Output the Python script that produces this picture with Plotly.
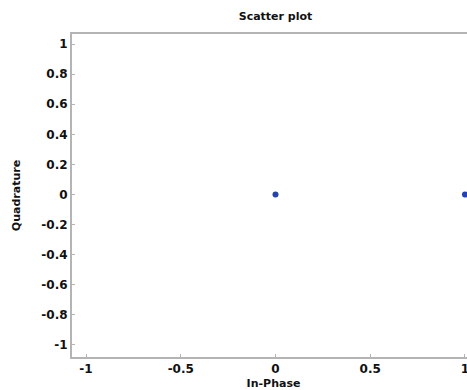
import plotly.graph_objects as go

in_phase = [0, 1]
quadrature = [0, 0]

x_tick_vals = [-1, -0.5, 0, 0.5, 1]
x_tick_text = ["-1", "-0.5", "0", "0.5", "1"]
y_tick_vals = [1, 0.8, 0.6, 0.4, 0.2, 0, -0.2, -0.4, -0.6, -0.8, -1]
y_tick_text = ["1", "0.8", "0.6", "0.4", "0.2", "0", "-0.2", "-0.4", "-0.6", "-0.8", "-1"]

fig = go.Figure()
fig.add_trace(go.Scatter(
    x=in_phase, y=quadrature, mode="markers",
    marker=dict(color="#2443b0", size=6),
    cliponaxis=False, showlegend=False,
))

tick_font = dict(family="DejaVu Sans, sans-serif", size=12, color="#111111")
title_font = dict(family="DejaVu Sans, sans-serif", size=11, color="#111111")

# the original axes box continues past the right edge of the picture; the page
# window (467 px) crops the last few pixels of this 475 px figure
fig.update_layout(
    width=475, height=390,
    margin=dict(l=72, r=0, t=34, b=33, autoexpand=False),
    paper_bgcolor="white", plot_bgcolor="white",
    title=dict(text="<b>Scatter plot</b>", x=0.58, xanchor="center", y=0.959, yanchor="middle",
               font=title_font),
    xaxis=dict(
        range=[-1.074, 1.053], tickvals=x_tick_vals, ticktext=[f"<b>{t}</b>" for t in x_tick_text],
        tickfont=tick_font,
        showgrid=False, zeroline=False, showline=True, linecolor="#b4b4b4", linewidth=2,
        mirror=True, ticks="inside", ticklen=3, tickcolor="#b4b4b4", automargin=False,
        title=dict(text="<b>In-Phase</b>", standoff=4, font=title_font),
    ),
    yaxis=dict(
        range=[-1.08, 1.067], tickvals=y_tick_vals, ticktext=[f"<b>{t}</b>" for t in y_tick_text],
        tickfont=tick_font,
        showgrid=False, zeroline=False, showline=True, linecolor="#b4b4b4", linewidth=2,
        mirror=False, ticks="inside", ticklen=3, tickcolor="#b4b4b4", automargin=False,
        title=dict(text="<b>Quadrature</b>", standoff=18, font=title_font),
    ),
)

fig.write_html(
    "out.html",
    config={"displayModeBar": False},
    post_script="document.body.style.margin='0';document.body.style.overflow='hidden';",
)
